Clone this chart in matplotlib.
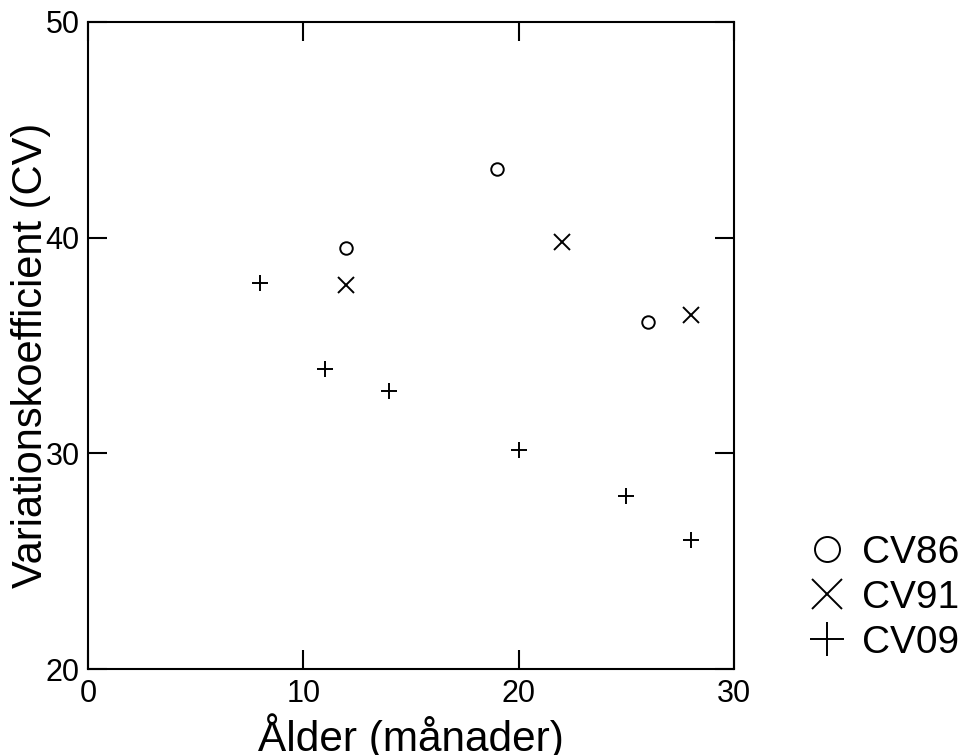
import matplotlib
matplotlib.use("Agg")
import matplotlib.pyplot as plt

plt.rcParams['font.family'] = ['Liberation Sans', 'DejaVu Sans']

# CV86
cv86_x = [12, 19, 26]
cv86_y = [39.5, 43.2, 36.1]
# CV91
cv91_x = [12, 22, 28]
cv91_y = [37.8, 39.8, 36.4]
# CV09
cv09_x = [8, 11, 14, 20, 25, 28]
cv09_y = [37.9, 33.9, 32.9, 30.15, 28.0, 26.0]

fig = plt.figure(figsize=(9.62, 7.55), dpi=100)
ax = fig.add_axes([0.0915, 0.1139, 0.6715, 0.857])

ax.plot(cv86_x, cv86_y, 'o', ls='none', mfc='none', mec='black', ms=9, mew=1.4, label='CV86')
ax.plot(cv91_x, cv91_y, 'x', ls='none', color='black', ms=11, mew=1.4, label='CV91')
ax.plot(cv09_x, cv09_y, '+', ls='none', color='black', ms=12, mew=1.4, label='CV09')

ax.set_xlim(0, 30)
ax.set_ylim(20, 50)
ax.set_xticks([0, 10, 20, 30])
ax.set_yticks([20, 30, 40, 50])

for s in ax.spines.values():
    s.set_linewidth(1.5)
ax.tick_params(direction='in', length=14, width=1.5, top=True, right=True,
               labelsize=22)
ax.tick_params(axis='y', pad=6)
ax.tick_params(axis='x', pad=7)

ax.set_xlabel('Ålder (månader)', fontsize=30.5)
ax.xaxis.set_label_coords(0.5, -0.068)
ax.set_ylabel('Variationskoefficient (CV)', fontsize=30)
ax.yaxis.set_label_coords(-0.058, 0.484)

fig.legend(loc='center left', bbox_to_anchor=(0.8196, 0.208), frameon=False,
           markerscale=2.0, fontsize=28, handlelength=1.0, handletextpad=0.4,
           labelspacing=0.23, borderpad=0)

fig.savefig('out.png', dpi=100)
